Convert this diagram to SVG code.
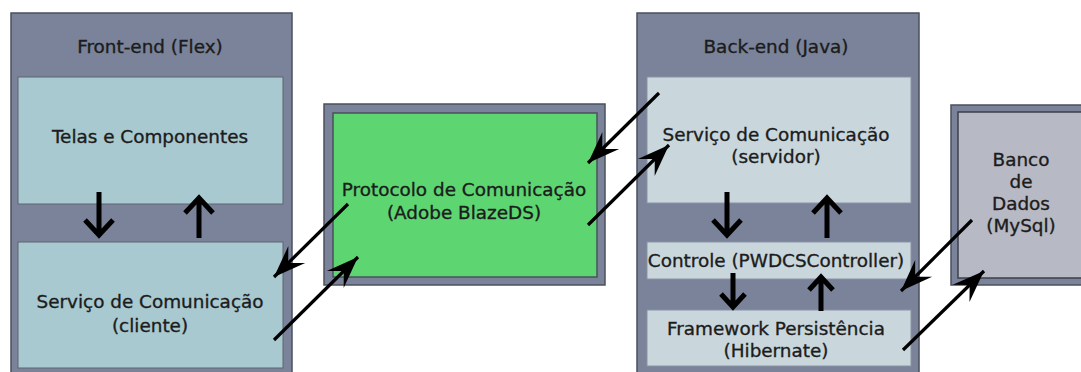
<svg xmlns="http://www.w3.org/2000/svg" width="1081" height="372" viewBox="0 0 1081 372">
<style>
.outer{fill:#7a8399;stroke:#4b505c;stroke-width:1.5}
.cli{fill:#a8c9d0;stroke:#5d6470;stroke-width:1}
.srv{fill:#c9d7dd;stroke:#8a93a3;stroke-width:1}
.green{fill:#5dd672;stroke:#4b505c;stroke-width:1.5}
.db{fill:#b7b9c5;stroke:#3d4049;stroke-width:1.5}
text{font-family:"DejaVu Sans",Verdana,sans-serif;font-size:18.4px;fill:#1c1c1c;stroke:#1c1c1c;stroke-width:0.35;text-anchor:middle}
.conn line{stroke:#000;stroke-width:3.2}
.v{stroke:#000;stroke-width:5;fill:none}
</style>
<defs>
<marker id="barb" markerUnits="userSpaceOnUse" markerWidth="36" markerHeight="28" viewBox="-34 -14 36 28" refX="0" refY="0" orient="auto">
<path d="M0,0 L-32,-12 L-20,0 L-32,12 Z" fill="#000"/>
</marker>
</defs>
<rect width="1081" height="372" fill="#fff"/>
<g id="frontend">
<rect class="outer" x="11" y="13" width="281" height="370"/>
<text x="150" y="53">Front-end (Flex)</text>
</g>
<g id="telas">
<rect class="cli" x="18" y="77" width="265" height="127"/>
<text x="150" y="143">Telas e Componentes</text>
</g>
<g id="servico-cliente">
<rect class="cli" x="18" y="242" width="265" height="126"/>
<text x="150" y="308">Serviço de Comunicação</text>
<text x="150" y="332">(cliente)</text>
</g>
<g id="protocolo">
<rect class="outer" x="324" y="104" width="281" height="181"/>
<rect class="green" x="333" y="113" width="264" height="164"/>
<text x="464" y="196">Protocolo de Comunicação</text>
<text x="464" y="219">(Adobe BlazeDS)</text>
</g>
<g id="backend">
<rect class="outer" x="637" y="13" width="282" height="370"/>
<text x="776" y="53">Back-end (Java)</text>
</g>
<g id="servico-servidor">
<rect class="srv" x="647" y="77" width="264" height="126"/>
<text x="776" y="141">Serviço de Comunicação</text>
<text x="776" y="163">(servidor)</text>
</g>
<g id="controle">
<rect class="srv" x="647" y="242" width="264" height="37"/>
<text x="776" y="267">Controle (PWDCSController)</text>
</g>
<g id="framework">
<rect class="srv" x="647" y="310" width="264" height="56"/>
<text x="776" y="335">Framework Persistência</text>
<text x="776" y="357">(Hibernate)</text>
</g>
<g id="banco">
<rect class="outer" x="951" y="105" width="140" height="180"/>
<rect class="db" x="958" y="112" width="130" height="166"/>
<text x="1021" y="166">Banco</text>
<text x="1021" y="188">de</text>
<text x="1021" y="210">Dados</text>
<text x="1021" y="232">(MySql)</text>
</g>
<g id="connectors" class="conn">
<line x1="659" y1="93" x2="588" y2="163" marker-end="url(#barb)"/>
<line x1="588" y1="225" x2="669" y2="145" marker-end="url(#barb)"/>
<line x1="348" y1="204" x2="274" y2="277" marker-end="url(#barb)"/>
<line x1="274" y1="340" x2="358" y2="257" marker-end="url(#barb)"/>
<line x1="972" y1="220" x2="901" y2="291" marker-end="url(#barb)"/>
<line x1="903" y1="350" x2="984" y2="271" marker-end="url(#barb)"/>
<path class="v" d="M99,192 V235 M85,220 L99,235 L113,220"/>
<path class="v" d="M199,238 V198 M185,213 L199,198 L213,213"/>
<path class="v" d="M727,192 V235 M713,220 L727,235 L741,220"/>
<path class="v" d="M827,238 V198 M813,213 L827,198 L841,213"/>
<path class="v" d="M733,273 V307 M721,294 L733,307 L745,294"/>
<path class="v" d="M821,311 V277 M809,290 L821,277 L833,290"/>
</g>
</svg>
